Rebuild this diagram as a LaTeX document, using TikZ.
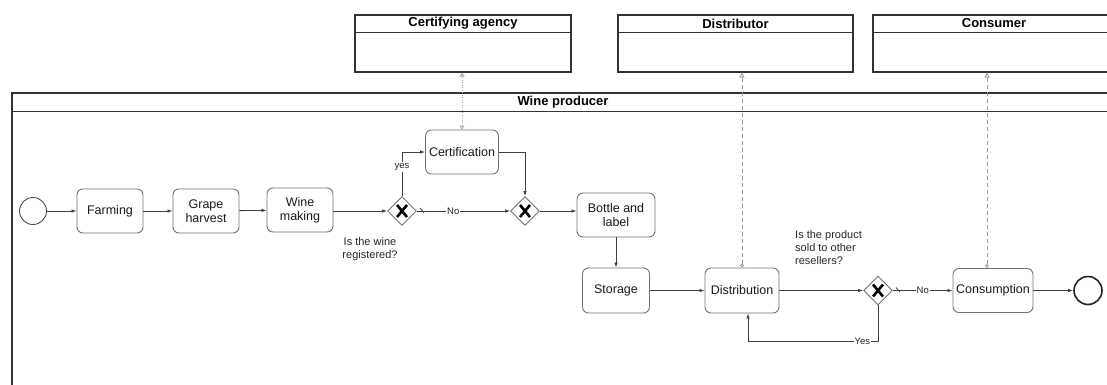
\documentclass[tikz,border=0pt]{standalone}
\usepackage{fontspec}
\setmainfont{Liberation Sans}
\usetikzlibrary{shapes.geometric,arrows.meta}

\begin{document}
\begin{tikzpicture}[x=1pt,y=-1pt]
			\tikzset{task/.style={rectangle, rounded corners=6pt, draw=black!55, line width=0.9pt, fill=white, minimum width=66pt, minimum height=44pt, align=center, inner sep=1pt, font=\fontsize{12.5}{14}\selectfont, text=black!90},
			gate/.style={diamond, draw=black!55, line width=0.9pt, fill=white, minimum size=29pt, inner sep=0pt},
			event/.style={circle, draw=black!70, line width=0.9pt, minimum size=27pt, inner sep=0pt},
			lane/.style={rectangle, draw=black!80, line width=1.1pt, inner sep=0pt},
			lanetitle/.style={font=\bfseries\fontsize{13}{15}\selectfont, inner sep=0pt},
			flow/.style={draw=black!75, line width=0.8pt, -{Latex[length=5pt,width=3.5pt]}},
			msg/.style={draw=black!40, line width=0.8pt, dash pattern=on 4pt off 3pt, {Circle[open,length=4pt]}-{Triangle[open,length=5pt,width=5pt]}},
			msgdot/.style={draw=black!35, line width=0.8pt, dash pattern=on 1pt off 1.5pt, {Triangle[open,length=4pt,width=5pt]}-{Triangle[open,length=4pt,width=5pt]}},
			lbl/.style={fill=white, inner sep=1pt, font=\fontsize{9.5}{11}\selectfont, text=black!85},
			note/.style={inner sep=0pt, font=\fontsize{11}{13}\selectfont, text=black!85}}

\useasboundingbox (0,0) rectangle (1107,385);
\clip (0,0) rectangle (1107,385);

\node[lane, minimum width=216pt, minimum height=57pt] at (463,43.5) (agency) {};
\node[lane, minimum width=235pt, minimum height=57pt] at (735.5,43.5) (distributor) {};
\node[lane, minimum width=242pt, minimum height=57pt] at (994,43.5) (consumer) {};
\node[lane, minimum width=1108pt, minimum height=320pt] at (566,253) (producer) {};
			\foreach \p/\h in {agency/18, distributor/18, consumer/18, producer/19}
				\draw [line width=1.1pt, black!80] ([yshift=-\h*1pt]\p.north west) -- ([yshift=-\h*1pt]\p.north east);
\node[lanetitle] at ([yshift=-9pt]agency.north) (agencyT) {Certifying agency};
\node[lanetitle] at ([yshift=-9pt]distributor.north) (distributorT) {Distributor};
\node[lanetitle] at ([yshift=-9pt]consumer.north) (consumerT) {Consumer};
\node[lanetitle] at (563,102.5) (producerT) {Wine producer};

\node[event] at (33,211) (start) {};
\node[task] at (110,211) (farming) {Farming};
\node[task] at (206,211) (harvest) {Grape\\harvest};
\node[task] at (300,210) (winemaking) {Wine\\making};
\node[gate] at (402,211) (gw1) {};
\node[task, minimum width=73pt] at (462,152) (cert) {Certification};
\node[gate] at (525,211) (gw2) {};
\node[task, minimum width=78pt] at (616,215) (bottle) {Bottle and\\label};
\node[task, minimum width=67pt, minimum height=45pt] at (616,290.5) (storage) {Storage};
\node[task, minimum width=74pt, minimum height=45pt] at (742,290.5) (distr) {Distribution};
\node[gate] at (878,290.5) (gw3) {};
\node[task, minimum width=80pt] at (993,290.5) (consum) {Consumption};
\node[event, draw=black!85, line width=1.6pt, minimum size=28pt] at (1088,290.5) (end) {};
			\foreach \g in {gw1, gw2, gw3} {
				\draw [line width=2.6pt, line cap=butt] ([shift={(-5,-6)}]\g.center) -- ([shift={(5,6)}]\g.center);
				\draw [line width=2.6pt, line cap=butt] ([shift={(-5,6)}]\g.center) -- ([shift={(5,-6)}]\g.center);
			}

			\draw [flow] (start) -- (farming);
			\draw [flow] (farming) -- (harvest);
			\draw [flow] (harvest) -- (winemaking);
			\draw [flow] (winemaking.east |- gw1) -- (gw1);
			\draw [flow] (gw1.north) |- (cert.west) node[lbl, pos=0.33] (yes1) {yes};
			\draw [flow] (gw1) -- (gw2) node[lbl, pos=0.39] (no1) {No};
			\draw [black!75, line width=0.8pt] ([shift={(3,-3)}]gw1.east) -- ([shift={(7,1.5)}]gw1.east);
			\draw [flow] (cert.east) -| (gw2.north);
			\draw [flow] (gw2) -- (gw2 -| bottle.west);
			\draw [flow] (bottle) -- (storage);
			\draw [flow] (storage) -- (distr);
			\draw [flow] (distr) -- (gw3);
			\draw [flow] (gw3) -- (consum) node[lbl, pos=0.5] (no2) {No};
			\draw [black!75, line width=0.8pt] ([shift={(3,-3)}]gw3.east) -- ([shift={(7,1.5)}]gw3.east);
			\draw [flow] (consum) -- (end);
\coordinate (back) at (748,341);
			\draw [flow] (gw3.south) |- (back) node[lbl, pos=0.56] (yes2) {Yes} -- (back |- distr.south);

\coordinate (cmsg) at ([xshift=-6pt]consum.north);
			\draw [msgdot] (cert.north) -- (cert.north |- agency.south);
			\draw [msg] (distr.north) -- (distr.north |- distributor.south);
			\draw [msg] (cmsg) -- (cmsg |- consumer.south);

\node[note, align=center] at (370,249.5) (q1) {Is the wine\\registered?};
\node[note, align=left, anchor=west] at (795,248) (q2) {Is the product\\sold to other\\resellers?};
		\end{tikzpicture}
\end{document}
